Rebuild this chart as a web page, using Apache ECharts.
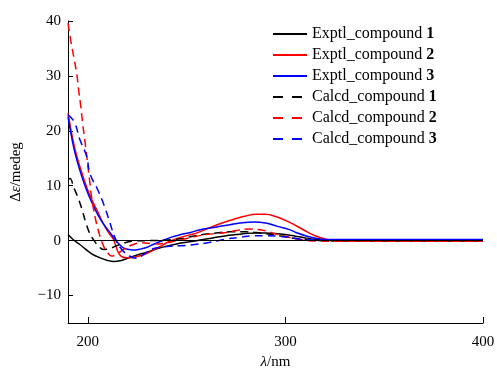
<!DOCTYPE html>
<html>
<head>
<meta charset="utf-8">
<script src="https://cdn.jsdelivr.net/npm/echarts@6/dist/echarts.min.js"></script>
<style>
  html, body { margin: 0; padding: 0; background: #fff; }
  #chart { width: 497px; height: 368px; }
</style>
</head>
<body>
<div id="chart"></div>
<script>
const FONT = "'Liberation Serif', 'DejaVu Serif', serif";

const names = [
  "Exptl_compound 1", "Exptl_compound 2", "Exptl_compound 3",
  "Calcd_compound 1", "Calcd_compound 2", "Calcd_compound 3",
];
const colors = ["#000000", "#ff0000", "#0000ff", "#000000", "#ff0000", "#0000ff"];

const xTicks = [200, 300, 400];
const yTicks = [-10, 0, 10, 20, 30, 40];

// wavelength (nm) / delta-epsilon pairs
const exptl1X = [190, 192, 194, 196, 199, 202, 206, 210, 213, 217, 221, 225, 230, 235, 240, 245, 250, 255, 260, 265, 270, 275, 280, 285, 290, 295, 300, 305, 310, 315, 320, 325, 400];
const exptl1Y = [1.1, 0.4, -0.2, -0.7, -1.6, -2.4, -3.1, -3.6, -3.8, -3.6, -3.1, -2.6, -2.1, -1.5, -1.0, -0.6, -0.3, 0, 0.3, 0.6, 0.9, 1.1, 1.3, 1.4, 1.4, 1.3, 1.1, 0.8, 0.5, 0.25, 0.1, 0, 0];

const exptl2X = [190, 193, 196, 199, 202, 205, 208, 211, 213, 216, 219, 222, 226, 230, 236, 241, 246, 251, 256, 262, 268, 274, 280, 285, 290, 295, 300, 305, 310, 315, 320, 325, 330, 400];
const exptl2Y = [23.2, 17.5, 13.5, 10.2, 7.5, 5.3, 3.0, 1.2, 0.2, -2.5, -3.1, -3.1, -2.8, -2.3, -1.2, -0.2, 0.5, 1.0, 1.5, 2.4, 3.2, 3.9, 4.5, 4.8, 4.8, 4.4, 3.7, 2.8, 1.8, 0.9, 0.3, 0, -0.1, -0.1];

const exptl3X = [190, 193, 196, 199, 202, 205, 208, 211, 213, 215, 218, 221, 224, 227, 230, 233, 237, 242, 247, 252, 257, 262, 267, 272, 277, 284, 290, 296, 302, 306, 311, 316, 321, 400];
const exptl3Y = [22.6, 16.8, 12.8, 9.6, 7.0, 4.8, 3.0, 1.6, 0.6, -0.3, -1.3, -1.6, -1.7, -1.5, -1.2, -0.7, -0.1, 0.6, 1.1, 1.5, 2.0, 2.3, 2.6, 2.9, 3.2, 3.4, 3.2, 2.6, 2.0, 1.4, 0.8, 0.4, 0.2, 0.2];

const calcd1X = [190, 191, 193, 195, 197, 199, 201, 203, 205, 208, 211, 214, 218, 222, 230, 240, 248, 253, 260, 265, 272, 280, 287, 295, 300, 305, 310, 315, 320, 400];
const calcd1Y = [11.2, 11.3, 9.6, 7.9, 5.8, 3.3, 1.3, 0.1, -0.8, -1.6, -1.5, -1.0, -0.5, -0.1, 0, 0.1, 0.4, 0.8, 1.2, 1.4, 1.6, 1.6, 1.4, 1.0, 0.7, 0.4, 0.2, 0.05, 0, 0];

const calcd2X = [190, 191.5, 193, 194.5, 195.5, 196.5, 197.5, 198.5, 199.5, 201, 202, 204, 206, 208, 210, 212, 215, 218, 223, 227, 232, 236, 240, 245, 250, 255, 260, 265, 270, 276, 282, 287, 291, 295, 299, 303, 307, 312, 318, 400];
const calcd2Y = [39.6, 36.2, 33.3, 30.2, 27.1, 24.4, 21.1, 18.4, 15.3, 10.8, 7.8, 3.8, 1.0, -1.0, -2.2, -2.8, -2.4, -1.6, -0.7, -0.4, -0.5, -0.6, -0.4, 0, 0.4, 0.8, 1.1, 1.3, 1.5, 1.9, 2.1, 2.0, 1.7, 1.2, 0.9, 0.5, 0.2, 0, -0.1, -0.1];

const calcd3X = [190, 191, 193.5, 196, 199.5, 201, 205, 208.4, 211, 213.5, 216.5, 221, 225, 228, 232, 237, 243, 252, 262, 270, 277, 284, 290, 296, 302, 307, 312, 318, 400];
const calcd3Y = [22.9, 22.6, 21.4, 18.4, 15.3, 12.3, 9.3, 6.3, 3.5, 0.8, -1.3, -2.8, -3.2, -2.6, -1.6, -1.2, -1.0, -0.8, -0.3, 0.3, 0.6, 0.9, 0.9, 0.8, 0.6, 0.3, 0.15, 0.1, 0.1];

const xs = [exptl1X, exptl2X, exptl3X, calcd1X, calcd2X, calcd3X];
const ys = [exptl1Y, exptl2Y, exptl3Y, calcd1Y, calcd2Y, calcd3Y];

const chart = echarts.init(document.getElementById("chart"), null, { renderer: "canvas" });

const series = names.map((name, i) => ({
  name,
  type: "line",
  data: xs[i].map((x, j) => [x, ys[i][j]]),
  smooth: 0.4,
  symbol: "none",
  lineStyle: { color: colors[i], width: 1.5, type: i < 3 ? "solid" : [8, 5] },
  itemStyle: { color: colors[i] },
  z: 3,
}));

series[0].markLine = {
  silent: true,
  symbol: "none",
  label: { show: false },
  lineStyle: { color: "#000", width: 1, type: "solid" },
  data: [{ yAxis: 0 }],
};

const axisText = { color: "#000", fontFamily: FONT, fontSize: 15 };
const minus = (v) => String(v).replace("-", "\u2212");

chart.setOption({
  animation: false,
  backgroundColor: "#fff",
  grid: { left: 68, right: 14, top: 21, bottom: 45, outerBoundsMode: "none", containLabel: false },
  legend: {
    orient: "vertical",
    left: 272,
    top: 26,
    padding: 0,
    itemWidth: 34,
    itemHeight: 14,
    itemGap: 5,
    itemStyle: { opacity: 0 },
    data: names.map((n, i) => ({
      name: n,
      lineStyle: i < 3 ? undefined : { type: [10, 9] },
    })),
    formatter: (n) => {
      const k = n.lastIndexOf(" ");
      return `{t|${n.slice(0, k + 1)}}{b|${n.slice(k + 1)}}`;
    },
    textStyle: {
      color: "#000",
      fontFamily: FONT,
      fontSize: 16,
      rich: {
        t: { fontFamily: FONT, fontSize: 16, color: "#000" },
        b: { fontFamily: FONT, fontSize: 16, color: "#000", fontWeight: "bold" },
      },
    },
  },
  xAxis: {
    type: "value",
    min: 190,
    max: 400,
    name: "{i|λ}{t|/nm}",
    nameLocation: "middle",
    nameGap: 32,
    nameTextStyle: {
      rich: {
        i: { fontFamily: FONT, fontSize: 15, fontStyle: "italic", color: "#000" },
        t: { fontFamily: FONT, fontSize: 15, color: "#000" },
      },
    },
    axisLine: { show: true, onZero: false, lineStyle: { color: "#000", width: 1 } },
    axisTick: { show: true, inside: true, length: 6, customValues: xTicks, lineStyle: { color: "#000" } },
    axisLabel: { ...axisText, margin: 12, customValues: xTicks },
    splitLine: { show: false },
  },
  yAxis: {
    type: "value",
    min: -15,
    max: 40,
    name: "{t|Δ}{i|ε}{t|/medeg}",
    nameLocation: "middle",
    nameRotate: 90,
    nameGap: 44,
    nameTextStyle: {
      rich: {
        i: { fontFamily: FONT, fontSize: 15, fontStyle: "italic", color: "#000" },
        t: { fontFamily: FONT, fontSize: 15, color: "#000" },
      },
    },
    axisLine: { show: true, onZero: false, lineStyle: { color: "#000", width: 1 } },
    axisTick: { show: true, inside: true, length: 5, customValues: yTicks, lineStyle: { color: "#000" } },
    axisLabel: { ...axisText, margin: 7, customValues: yTicks, formatter: minus },
    splitLine: { show: false },
  },
  series,
});
</script>
</body>
</html>
